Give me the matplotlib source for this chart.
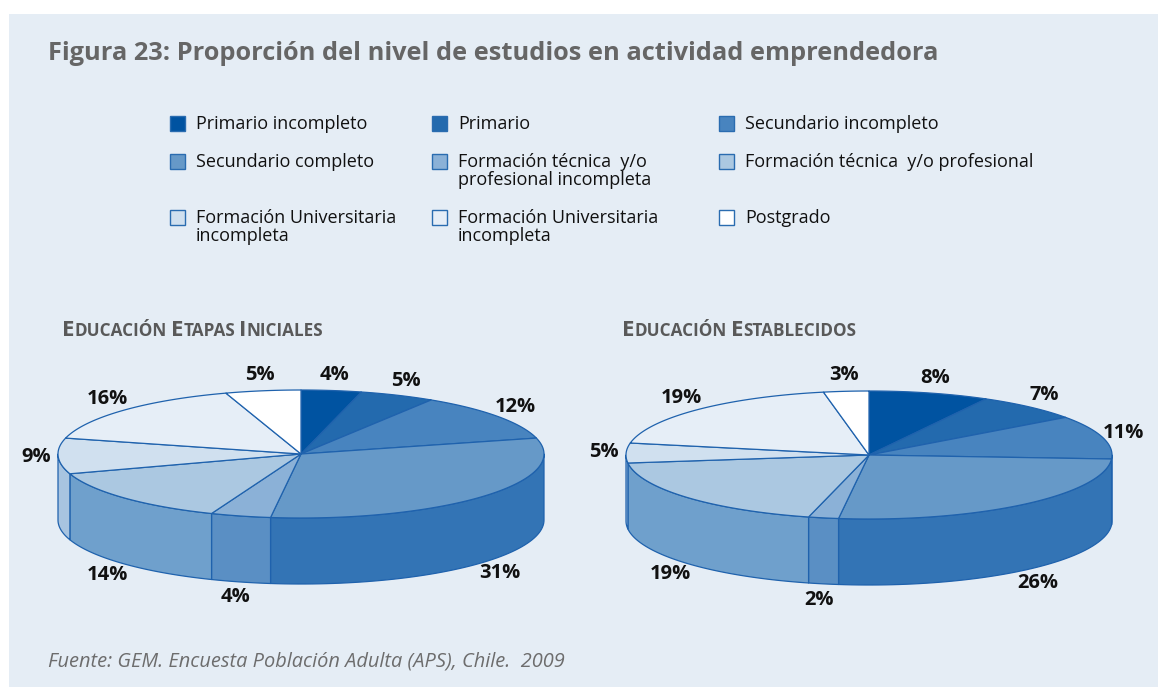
import numpy as np
import matplotlib
matplotlib.use('Agg')
import matplotlib.pyplot as plt
from matplotlib.patches import Polygon, Rectangle

plt.rcParams['font.family'] = ['Open Sans', 'DejaVu Sans']

# categories (legend order) and colours
categories = ['Primario incompleto', 'Primario', 'Secundario incompleto',
              'Secundario completo', 'Formación técnica  y/o\nprofesional incompleta',
              'Formación técnica  y/o profesional',
              'Formación Universitaria\nincompleta', 'Formación Universitaria\nincompleta',
              'Postgrado']
top_colors = ['#0053a1', '#236aae', '#4884bf', '#6699c8', '#8bb1d7',
              '#abc8e1', '#d0e0ef', '#e6eef7', '#ffffff']
side_colors = ['#003f86', '#1b5c9f', '#2f6fb0', '#3374b5', '#5a8fc4',
               '#6fa0cc', '#a8c4e0', '#c9daec', '#e6eef7']

# percentages per pie
iniciales = [4, 5, 12, 31, 4, 14, 9, 16, 5]
establecidos = [8, 7, 11, 26, 2, 19, 5, 19, 3]

edge = '#1f62ad'
bg = '#e5edf5'

fig = plt.figure(figsize=(11.58, 6.87), dpi=100)
fig.patch.set_facecolor('white')
ax = fig.add_axes([0, 0, 1, 1])
ax.set_xlim(0, 1158)
ax.set_ylim(687, 0)
ax.axis('off')

ax.add_patch(Rectangle((9, 14), 1160, 690, facecolor=bg, edgecolor='none'))

ax.text(48, 53, 'Figura 23: Proporción del nivel de estudios en actividad emprendedora',
        fontsize=18.3, fontweight='bold', color='#666666', va='center', ha='left')

# legend, drawn by hand (3 columns)
col_x = [171, 433, 720]
row_y = [123, 161, 217]
for i, (lab, col) in enumerate(zip(categories, top_colors)):
    x = col_x[i % 3]
    y = row_y[i // 3]
    ax.add_patch(Rectangle((x - 1, y - 7), 15, 15, facecolor=col, edgecolor='#2a6cb0', lw=1))
    ax.text(x + 25, y - 8, lab, fontsize=13, color='#111111', va='top', ha='left',
            linespacing=1.0)


def small_caps(x, y, words, big=16, small=12.3):
    r = fig.canvas.get_renderer()
    for w in words:
        t1 = ax.text(x, y, w[0], fontsize=big, fontweight='bold', color='#595959', va='baseline')
        x += t1.get_window_extent(r).width
        t2 = ax.text(x, y, w[1:], fontsize=small, fontweight='bold', color='#595959', va='baseline')
        x += t2.get_window_extent(r).width + 4


small_caps(62, 336, ['EDUCACIÓN', 'ETAPAS', 'INICIALES'])
small_caps(622, 336, ['EDUCACIÓN', 'ESTABLECIDOS'])


def pie3d(values, cx, cy, rx, ry, depth):
    total = float(sum(values))
    bounds = np.concatenate([[0], np.cumsum(values)]) / total * 360.0

    def pt(a, dy=0.0):
        a = np.radians(a)
        return cx + rx * np.sin(a), cy - ry * np.cos(a) + dy

    # front side walls (angles 90..270 clockwise from top are facing us)
    for i in range(len(values)):
        a1 = max(bounds[i], 90)
        a2 = min(bounds[i + 1], 270)
        if a2 <= a1:
            continue
        ang = np.linspace(a1, a2, 60)
        top = [pt(a) for a in ang]
        bot = [pt(a, depth) for a in ang[::-1]]
        ax.add_patch(Polygon(top + bot, closed=True, facecolor=side_colors[i],
                             edgecolor=edge, lw=0.9, joinstyle='round'))

    # top faces
    for i in range(len(values)):
        ang = np.linspace(bounds[i], bounds[i + 1], 80)
        poly = [(cx, cy)] + [pt(a) for a in ang]
        ax.add_patch(Polygon(poly, closed=True, facecolor=top_colors[i],
                             edgecolor=edge, lw=0.9, joinstyle='round'))

    # percentage labels
    for i, v in enumerate(values):
        m = np.radians((bounds[i] + bounds[i + 1]) / 2)
        lx = cx + (rx + 22) * np.sin(m)
        ly = cy - (ry + 16) * np.cos(m)
        if np.cos(m) < -0.3:
            ly += depth
        ax.text(lx, ly, '%d%%' % v, fontsize=14.5, fontweight='bold', color='#111111',
                ha='center', va='center')


pie3d(iniciales, 301, 454, 243, 64, 66)
pie3d(establecidos, 869, 455, 243, 64, 66)

ax.text(48, 662, 'Fuente: GEM. Encuesta Población Adulta (APS), Chile.  2009',
        fontsize=14.4, style='italic', color='#6d6d6d', va='center', ha='left')

fig.savefig('out.png', dpi=100)
